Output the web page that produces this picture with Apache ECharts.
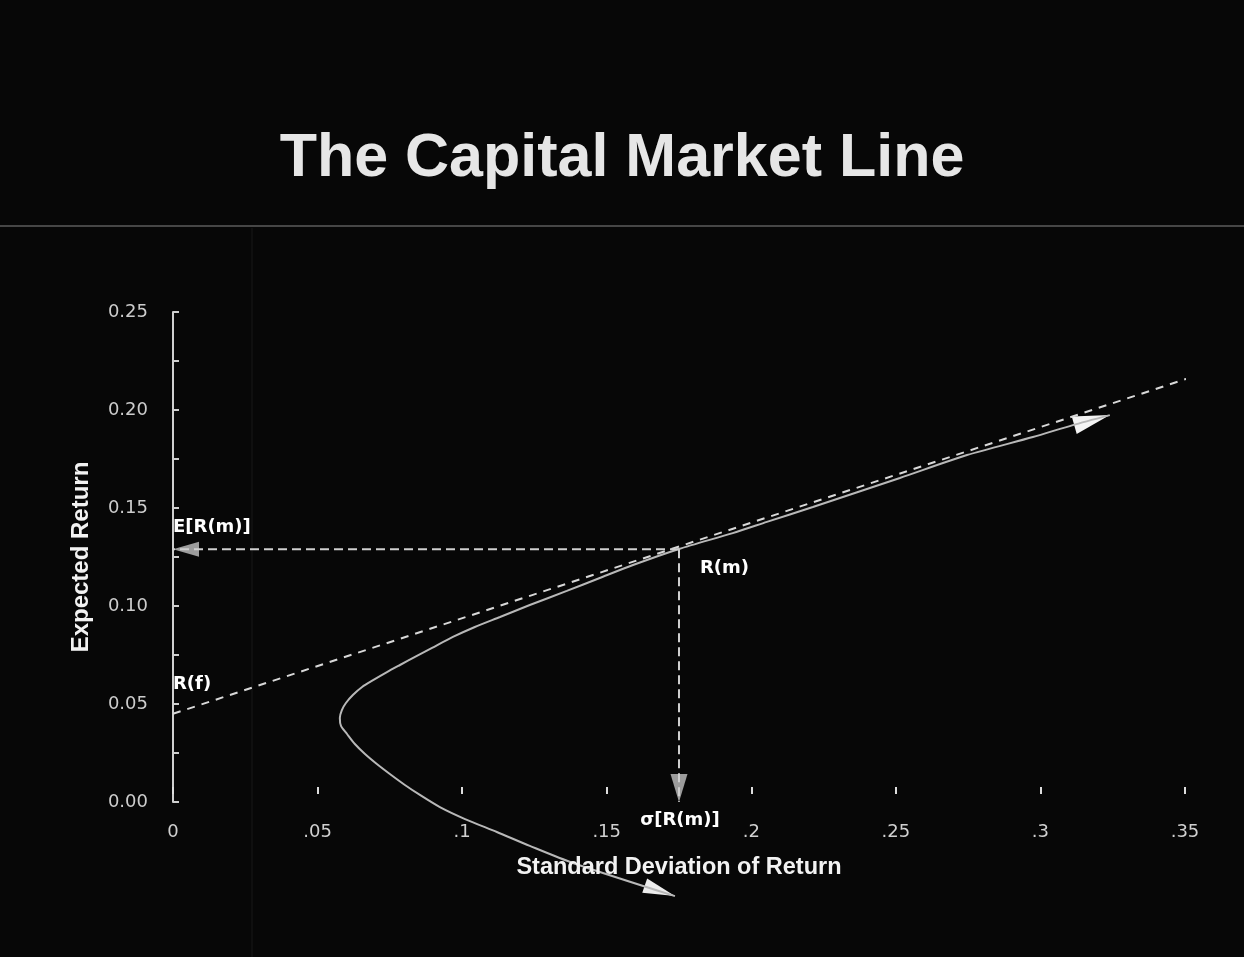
<!DOCTYPE html>
<html>
<head>
<meta charset="utf-8">
<title>The Capital Market Line</title>
<script src="https://cdn.jsdelivr.net/npm/echarts@6/dist/echarts.min.js"></script>
<style>
  html, body { margin: 0; padding: 0; background: #070707; }
  #chart { width: 1244px; height: 957px; }
</style>
</head>
<body>
<div id="chart"></div>
<script>
// Efficient frontier (standard deviation vs expected return), from the lower tip to the upper tip
const frontierSigma = [0.1736, 0.1383, 0.1234, 0.1120, 0.1010, 0.0923, 0.0854, 0.0802, 0.0750,
  0.0705, 0.0664, 0.0629, 0.0602, 0.0581, 0.0577, 0.0584, 0.0598, 0.0622, 0.0654, 0.0692,
  0.0740, 0.0785, 0.0837, 0.0896, 0.0968, 0.1044, 0.1131, 0.1234, 0.1362, 0.1476, 0.1591,
  0.1750, 0.1936, 0.2054, 0.2213, 0.2514, 0.2746, 0.2974, 0.3112, 0.3240];
const frontierReturn = [-0.0480, -0.0311, -0.0224, -0.0153, -0.0087, -0.0026, 0.0036, 0.0087, 0.0143,
  0.0194, 0.0245, 0.0296, 0.0347, 0.0388, 0.0429, 0.0469, 0.0505, 0.0546, 0.0587, 0.0622,
  0.0663, 0.0699, 0.0740, 0.0786, 0.0842, 0.0893, 0.0944, 0.1005, 0.1077, 0.1143, 0.1209,
  0.1291, 0.1372, 0.1429, 0.1505, 0.1653, 0.1770, 0.1862, 0.1923, 0.1974];

// Capital market line endpoints
const cmlSigma = [0, 0.363];
const cmlReturn = [0.045, 0.222];

// Risk-free rate and market portfolio
const riskFree = 0.045;
const marketSigma = 0.175;
const marketReturn = 0.129;

// Tick labels
const xTickLabels = ['0', '.05', '.1', '.15', '.2', '.25', '.3', '.35'];
const yTickLabels = ['0.00', '0.05', '0.10', '0.15', '0.20', '0.25'];

// Annotation texts
const labelMarketReturn = 'E[R(m)]';
const labelMarket = 'R(m)';
const labelRiskFree = 'R(f)';
const labelMarketSigma = 'σ[R(m)]';

const FONT = '"Liberation Sans", Arial, Helvetica, sans-serif';
const TICK_FONT = '"DejaVu Sans", Verdana, sans-serif';

const chart = echarts.init(document.getElementById('chart'), null, { renderer: 'canvas' });

const frontierData = frontierSigma.map((s, i) => [s, frontierReturn[i]]);
const cmlData = cmlSigma.map((s, i) => [s, cmlReturn[i]]);
const nF = frontierData.length;
const marketPoint = [marketSigma, marketReturn];
const hGuide = [marketPoint, [0, marketReturn]];
const vGuide = [marketPoint, [marketSigma, 0]];

// Arrowheads: each entry is a tip and a point behind it that sets the direction
const arrowHeads = [
  { tip: frontierData[nF - 1], back: frontierData[nF - 3], len: 37, wid: 18, color: '#f4f4f4' },
  { tip: frontierData[0], back: frontierData[2], len: 32, wid: 15, color: '#ececec' },
  { tip: hGuide[1], back: hGuide[0], len: 26, wid: 15, color: '#9c9c9c' },
  { tip: vGuide[1], back: vGuide[0], len: 28, wid: 17, color: '#9c9c9c' }
];

function renderArrow(params, api) {
  const a = arrowHeads[params.dataIndex];
  const p = api.coord(a.tip);
  const q = api.coord(a.back);
  const dx = p[0] - q[0], dy = p[1] - q[1];
  const d = Math.hypot(dx, dy) || 1;
  const ux = dx / d, uy = dy / d;
  const bx = p[0] - ux * a.len, by = p[1] - uy * a.len;
  const nx = -uy * a.wid / 2, ny = ux * a.wid / 2;
  return {
    type: 'polygon',
    shape: { points: [[p[0], p[1]], [bx + nx, by + ny], [bx - nx, by - ny]] },
    style: { fill: a.color }
  };
}

const annotationLabel = (align, offset) => ({
  show: true, position: 'inside', align: align, offset: offset,
  color: '#ffffff', opacity: 1, fontSize: 18, fontWeight: 'bold', fontFamily: TICK_FONT
});

const option = {
  backgroundColor: '#070707',
  animation: false,
  title: {
    text: 'The Capital Market Line',
    left: 'center',
    top: 124,
    textStyle: { color: '#e6e6e6', fontSize: 61, fontWeight: 'bold', fontFamily: FONT }
  },
  graphic: [
    { type: 'line', silent: true, shape: { x1: 0, y1: 226, x2: 1244, y2: 226 },
      style: { stroke: '#5c5c5c', lineWidth: 1.5 } },
    { type: 'line', silent: true, shape: { x1: 252, y1: 228, x2: 252, y2: 957 },
      style: { stroke: 'rgba(255,255,255,0.07)', lineWidth: 1 } }
  ],
  grid: { left: 173, right: 59, top: 312, bottom: 155, containLabel: false },
  xAxis: {
    type: 'value', min: 0, max: 0.35, interval: 0.05,
    offset: -8,
    z: 10,
    name: 'Standard Deviation of Return', nameLocation: 'middle', nameGap: 62,
    nameTextStyle: { color: '#f2f2f2', fontSize: 23.5, fontWeight: 'bold', fontFamily: FONT },
    axisLine: { show: false },
    axisTick: { show: true, inside: true, length: 7, lineStyle: { color: '#dddddd', width: 2 } },
    splitLine: { show: false },
    axisLabel: {
      color: '#d0d0d0', fontSize: 18, fontFamily: TICK_FONT, margin: 29,
      formatter: v => xTickLabels[Math.round(v / 0.05)]
    }
  },
  yAxis: {
    type: 'value', min: 0, max: 0.25, interval: 0.05,
    name: 'Expected Return', nameLocation: 'middle', nameGap: 80,
    nameTextStyle: { color: '#f2f2f2', fontSize: 24, fontWeight: 'bold', fontFamily: FONT },
    axisLine: { show: true, lineStyle: { color: '#cfcfcf', width: 2 } },
    axisTick: { show: true, inside: true, length: 6, lineStyle: { color: '#cfcfcf', width: 2 } },
    minorTick: { show: true, splitNumber: 2, length: 6, lineStyle: { color: '#cfcfcf', width: 2 } },
    splitLine: { show: false },
    axisLabel: {
      color: '#cccccc', fontSize: 18, fontFamily: TICK_FONT, margin: 25,
      formatter: v => yTickLabels[Math.round(v / 0.05)]
    }
  },
  series: [
    {
      name: 'Efficient Frontier',
      type: 'line',
      data: frontierData,
      smooth: 0.25,
      symbol: 'none',
      clip: false,
      lineStyle: { color: '#b8b8b8', width: 2 }
    },
    {
      name: 'Capital Market Line',
      type: 'line',
      data: cmlData,
      symbol: 'none',
      clip: false,
      lineStyle: { color: '#d8d8d8', width: 2, type: [8, 7] }
    },
    {
      name: 'Market Return Guide',
      type: 'line',
      data: hGuide,
      symbol: 'none',
      clip: false,
      lineStyle: { color: '#cfcfcf', width: 2, type: [9, 5] }
    },
    {
      name: 'Market Risk Guide',
      type: 'line',
      data: vGuide,
      symbol: 'none',
      clip: false,
      lineStyle: { color: '#cfcfcf', width: 2, type: [9, 5] }
    },
    {
      name: 'Arrowheads',
      type: 'custom',
      clip: false,
      silent: true,
      renderItem: renderArrow,
      data: arrowHeads.map(a => a.tip)
    },
    {
      name: 'Annotations',
      type: 'scatter',
      symbolSize: 0,
      silent: true,
      clip: false,
      z: 12,
      itemStyle: { color: '#ffffff' },
      label: { show: true, formatter: p => p.name },
      data: [
        { name: labelMarketReturn, value: [0, marketReturn], label: annotationLabel('left', [0, -22]) },
        { name: labelRiskFree, value: [0, riskFree], label: annotationLabel('left', [0, -29]) },
        { name: labelMarket, value: marketPoint, label: annotationLabel('left', [21, 19]) },
        { name: labelMarketSigma, value: [marketSigma, 0], label: annotationLabel('center', [1, 18]) }
      ]
    }
  ]
};

chart.setOption(option);
</script>
</body>
</html>
